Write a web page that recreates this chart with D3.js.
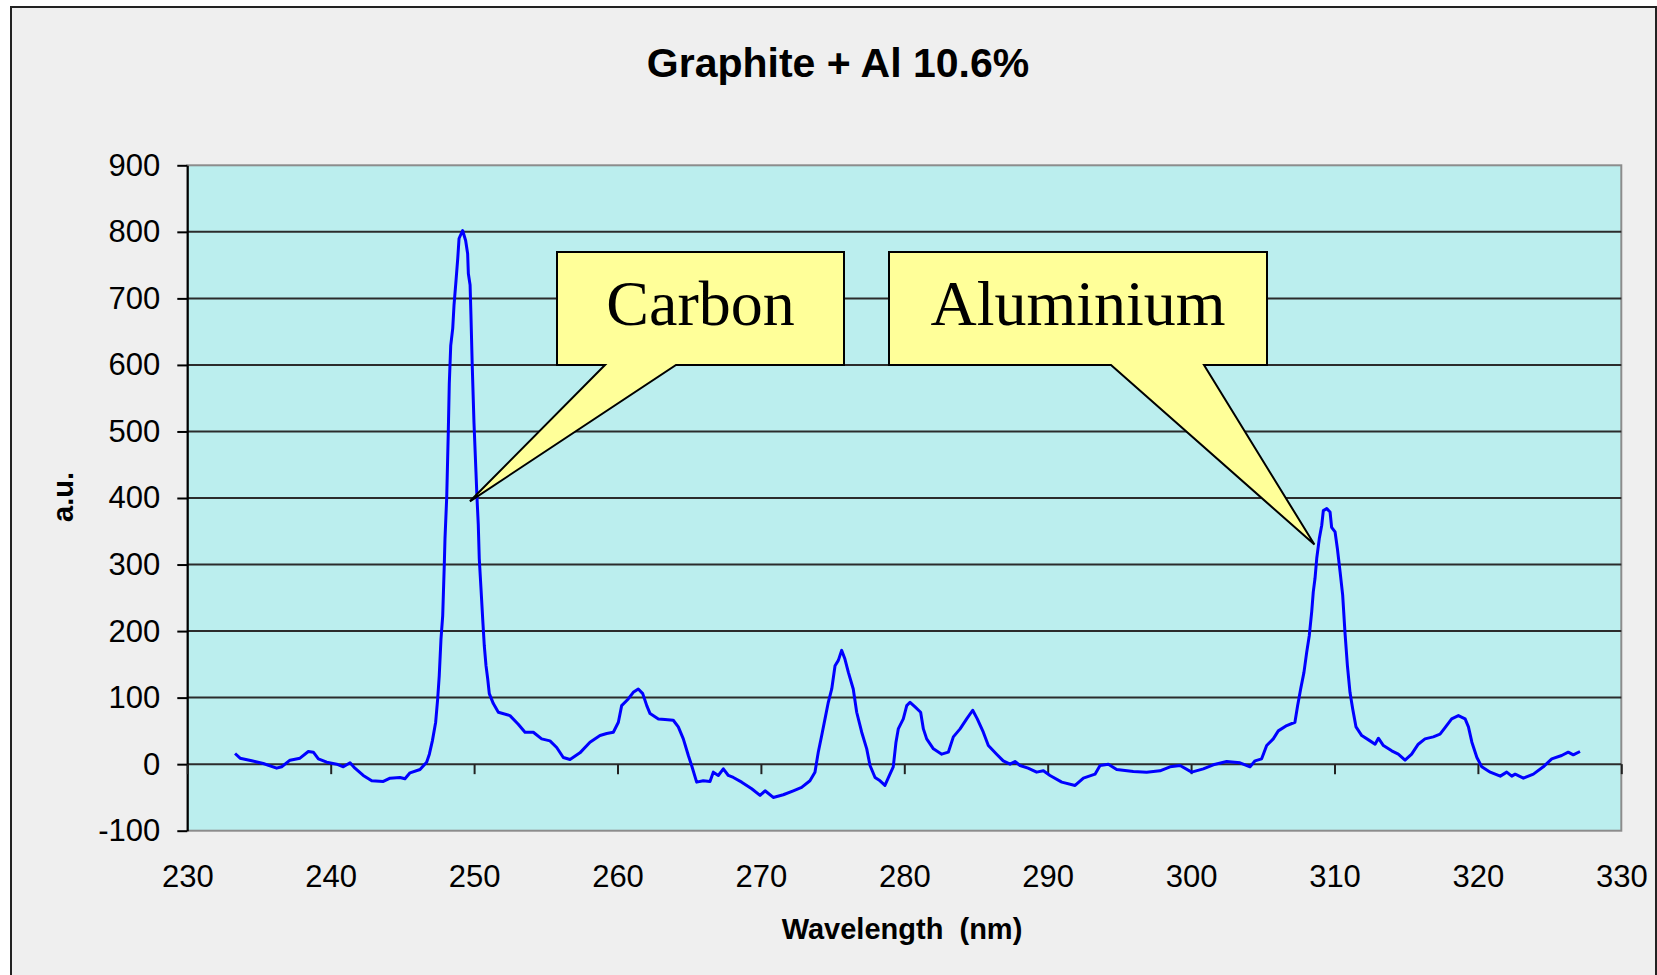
<!DOCTYPE html>
<html>
<head>
<meta charset="utf-8">
<script src="https://cdn.jsdelivr.net/npm/d3@7"></script>
<style>
  body { margin: 0; background: #ffffff; }
  svg { display: block; }
  .tick text { font-family: "Liberation Sans", Arial, sans-serif; font-size: 31px; fill: #000; }
</style>
</head>
<body>
<svg id="chart" width="1657" height="975"></svg>
<script>

// spectrum (nm, a.u.)
var wavelength = [
	233.33, 233.68, 234.49, 235.3, 236.23, 236.58, 237.16, 237.86, 238.44, 238.79,
	239.14, 239.72, 240.42, 240.88, 241.35, 241.69, 242.27, 242.86, 243.67, 244.14,
	244.83, 245.18, 245.53, 246.23, 246.69, 246.88, 247.09, 247.32, 247.46, 247.57,
	247.69, 247.81, 247.92, 247.97, 248.09, 248.2, 248.27, 248.37, 248.51, 248.6,
	248.74, 248.86, 248.95, 249.2, 249.41, 249.55, 249.6, 249.72, 249.78, 249.87,
	249.99, 250.13, 250.2, 250.29, 250.36, 250.48, 250.6, 250.71, 250.83, 250.95,
	251.06, 251.34, 251.69, 252.5, 253.08, 253.55, 254.13, 254.71, 255.29, 255.76,
	256.22, 256.69, 257.38, 258.08, 258.78, 259.25, 259.71, 260.06, 260.29, 260.75,
	261.1, 261.45, 261.76, 262.04, 262.27, 262.85, 263.31, 263.89, 264.24, 264.59,
	264.94, 265.17, 265.52, 265.98, 266.45, 266.68, 267.03, 267.38, 267.73, 268.08,
	268.66, 269.36, 269.94, 270.29, 270.86, 271.56, 272.26, 272.84, 273.42, 273.77,
	274.0, 274.24, 274.47, 274.7, 274.94, 275.17, 275.4, 275.63, 275.86, 276.1,
	276.44, 276.68, 277.03, 277.38, 277.61, 277.96, 278.31, 278.65, 279.0, 279.23,
	279.42, 279.58, 279.93, 280.17, 280.4, 280.75, 281.14, 281.33, 281.56, 282.03,
	282.61, 283.07, 283.42, 283.89, 284.35, 284.77, 285.09, 285.51, 285.86, 286.44,
	286.9, 287.37, 287.72, 288.07, 288.63, 289.23, 289.7, 290.16, 290.98, 291.91,
	292.49, 293.3, 293.65, 294.23, 294.81, 295.97, 296.9, 297.83, 298.53, 299.23,
	300.04, 300.85, 301.55, 302.48, 303.41, 304.11, 304.46, 304.92, 305.27, 305.73,
	306.08, 306.67, 307.24, 307.43, 307.64, 307.87, 308.06, 308.24, 308.41, 308.52,
	308.64, 308.76, 308.94, 309.11, 309.22, 309.46, 309.69, 309.8, 310.04, 310.2,
	310.39, 310.57, 310.73, 310.9, 311.08, 311.27, 311.5, 311.9, 312.48, 312.83,
	313.06, 313.41, 313.99, 314.45, 314.92, 315.38, 315.84, 316.31, 316.89, 317.36,
	317.71, 318.17, 318.64, 319.11, 319.34, 319.58, 319.93, 320.27, 320.86, 321.56,
	322.01, 322.36, 322.6, 323.17, 323.87, 324.56, 325.15, 325.84, 326.3, 326.65,
	327.12
]

var intensity = [
	16, 9, 5, 1, -6, -4, 6, 9, 19, 18,
	8, 3, 0, -4, 2, -6, -17, -25, -26, -21,
	-20, -22, -13, -8, 3, 15, 35, 63, 98, 133,
	188, 223, 299, 339, 401, 499, 572, 629, 655, 690,
	727, 760, 790, 802, 787, 767, 737, 720, 675, 599,
	514, 439, 401, 361, 309, 264, 218, 178, 148, 128,
	106, 91, 78, 73, 60, 48, 48, 38, 35, 25,
	10, 7, 17, 33, 43, 46, 48, 63, 88, 98,
	108, 113, 106, 88, 76, 68, 67, 66, 56, 38,
	13, -2, -27, -25, -26, -12, -17, -7, -17, -20,
	-27, -37, -47, -40, -50, -46, -40, -35, -25, -12,
	18, 43, 68, 93, 113, 148, 156, 171, 158, 138,
	113, 78, 48, 23, -2, -20, -25, -32, -15, -4,
	33, 53, 68, 88, 93, 86, 78, 53, 38, 23,
	15, 18, 41, 53, 68, 81, 68, 48, 28, 15,
	5, 0, 4, -2, -6, -12, -10, -17, -27, -32,
	-21, -15, -2, 0, -8, -11, -12, -10, -4, -2,
	-12, -7, -1, 4, 2, -4, 5, 8, 28, 38,
	50, 58, 63, 88, 113, 138, 168, 193, 229, 259,
	279, 309, 339, 359, 381, 384, 379, 356, 349, 324,
	289, 254, 198, 148, 108, 83, 56, 43, 35, 30,
	39, 28, 20, 15, 6, 15, 30, 38, 41, 45,
	55, 68, 73, 68, 56, 33, 10, -4, -12, -18,
	-12, -18, -15, -21, -15, -4, 8, 13, 18, 14,
	19
]

var xTicks = [230, 240, 250, 260, 270, 280, 290, 300, 310, 320, 330]
var yTicks = [-100, 0, 100, 200, 300, 400, 500, 600, 700, 800, 900]

// callouts: what they point at (nm, a.u.)
var calloutLabels = ['Carbon', 'Aluminium']
var calloutTargetX = [249.71, 308.6]
var calloutTargetY = [395, 330]

// layout of the callout boxes (pixels)
var calloutBox = [
	{ x0: 557, x1: 844, y0: 252, y1: 365, tailA: 48, tailB: 119 },
	{ x0: 889, x1: 1267, y0: 252, y1: 365, tailA: 222, tailB: 315 }
]

var svg = d3.select('#chart')

var x = d3.scaleLinear().domain([230, 330]).range([187.3, 1621.3])
var y = d3.scaleLinear().domain([-100, 900]).range([830.7, 165.3])

// outer chart area
svg.append('rect')
	.attr('x', 11).attr('y', 7)
	.attr('width', 1645).attr('height', 1000)
	.attr('fill', '#efefef')
	.attr('stroke', '#222')
	.attr('stroke-width', 2)

// plot area
svg.append('rect')
	.attr('x', x(230)).attr('y', y(900))
	.attr('width', x(330) - x(230)).attr('height', y(-100) - y(900))
	.attr('fill', '#bbeeee')
	.attr('stroke', '#8c8c8c')
	.attr('stroke-width', 2)

// gridlines
svg.append('g')
	.selectAll('line')
	.data(yTicks.filter(function(d) { return d > -100 && d < 900 }))
	.enter()
	.append('line')
	.attr('x1', x(230)).attr('x2', x(330))
	.attr('y1', function(d) { return y(d) })
	.attr('y2', function(d) { return y(d) })
	.attr('stroke', '#2b2b2b')
	.attr('stroke-width', 2)

// y axis (plain hyphen for the minus, like the original)
var yAxis = svg.append('g')
	.attr('transform', 'translate(' + x(230) + ',0)')
	.call(d3.axisLeft(y).tickValues(yTicks).tickSize(10).tickPadding(17).tickSizeOuter(0)
		.tickFormat(function(d) { return String(d) }))
yAxis.select('.domain').attr('stroke', '#000').attr('stroke-width', 2)
yAxis.selectAll('.tick line').attr('stroke', '#000').attr('stroke-width', 2)

// x axis crosses at 0, labels sit below the plot
var xAxis = svg.append('g')
	.attr('transform', 'translate(0,' + y(0) + ')')
	.call(d3.axisBottom(x).tickValues(xTicks).tickSize(10).tickPadding(91).tickSizeOuter(0))
xAxis.select('.domain').remove()
xAxis.selectAll('.tick line').attr('stroke', '#222').attr('stroke-width', 2)

// the spectrum
var points = wavelength.map(function(w, i) { return [w, intensity[i]] })

svg.append('path')
	.datum(points)
	.attr('fill', 'none')
	.attr('stroke', '#0000ff')
	.attr('stroke-width', 3)
	.attr('stroke-linejoin', 'round')
	.attr('d', d3.line()
		.x(function(d) { return x(d[0]) })
		.y(function(d) { return y(d[1]) }))

// callouts
for (i=0; i<calloutLabels.length; i++){
	var b = calloutBox[i]
	var tx = x(calloutTargetX[i])
	var ty = y(calloutTargetY[i])
	var p = d3.path()
	p.moveTo(b.x0, b.y0)
	p.lineTo(b.x1, b.y0)
	p.lineTo(b.x1, b.y1)
	p.lineTo(b.x0 + b.tailB, b.y1)
	p.lineTo(tx, ty)
	p.lineTo(b.x0 + b.tailA, b.y1)
	p.lineTo(b.x0, b.y1)
	p.closePath()

	svg.append('path')
		.attr('d', p.toString())
		.attr('fill', '#ffff99')
		.attr('stroke', '#000')
		.attr('stroke-width', 2)
		.attr('stroke-linejoin', 'miter')

	svg.append('text')
		.attr('x', (b.x0 + b.x1) / 2)
		.attr('y', 325)
		.attr('text-anchor', 'middle')
		.style('font-family', '"Liberation Serif", "Times New Roman", serif')
		.style('font-size', '64px')
		.text(calloutLabels[i])
}

// titles
svg.append('text')
	.attr('x', 838).attr('y', 77)
	.attr('text-anchor', 'middle')
	.style('font-family', '"Liberation Sans", Arial, sans-serif')
	.style('font-weight', 'bold')
	.style('font-size', '41px')
	.text('Graphite + Al 10.6%')

svg.append('text')
	.attr('x', 902).attr('y', 939)
	.attr('text-anchor', 'middle')
	.attr('xml:space', 'preserve')
	.style('font-family', '"Liberation Sans", Arial, sans-serif')
	.style('font-weight', 'bold')
	.style('font-size', '29px')
	.style('white-space', 'pre')
	.text('Wavelength  (nm)')

svg.append('text')
	.attr('transform', 'translate(73,497) rotate(-90)')
	.attr('text-anchor', 'middle')
	.style('font-family', '"Liberation Sans", Arial, sans-serif')
	.style('font-weight', 'bold')
	.style('font-size', '29px')
	.text('a.u.')

</script>
</body>
</html>
